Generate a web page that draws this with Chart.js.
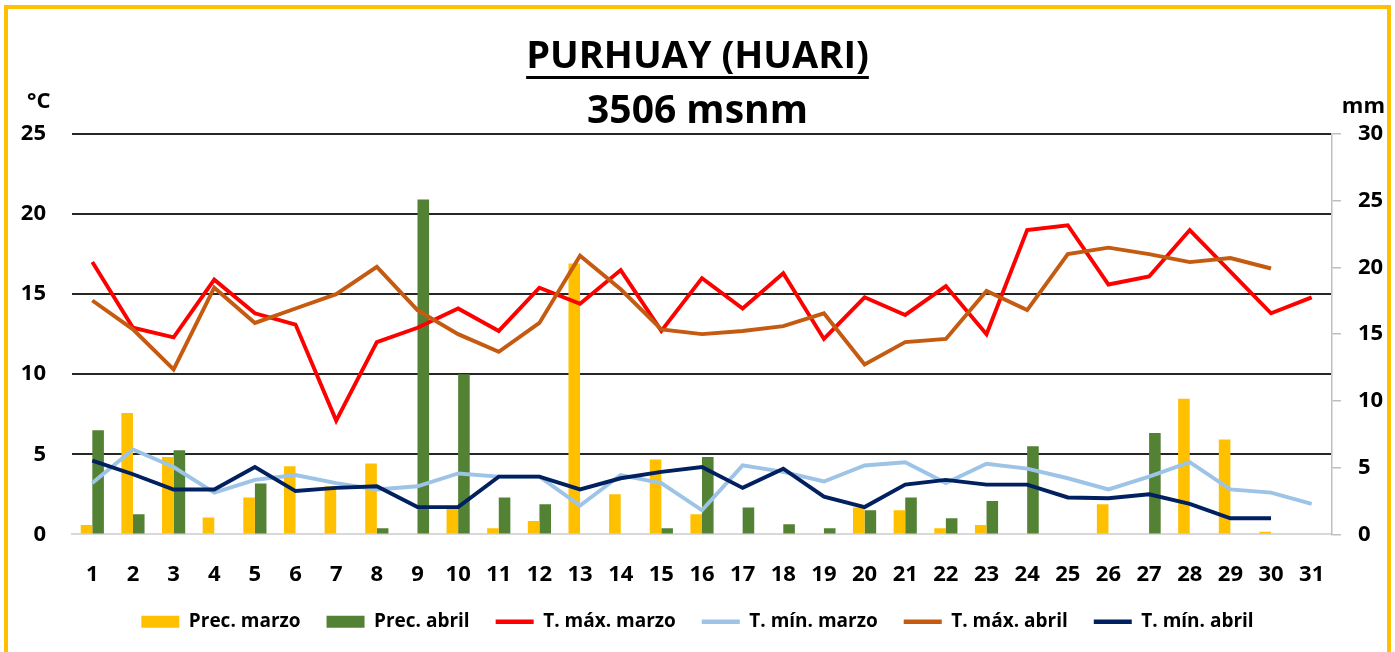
<!DOCTYPE html>
<html>
<head>
<meta charset="utf-8">
<script src="https://cdn.jsdelivr.net/npm/chart.js@4.4.1/dist/chart.umd.min.js"></script>
<style>
  html, body { margin: 0; padding: 0; background: #ffffff; }
  #wrap { position: relative; width: 1395px; height: 652px; overflow: hidden; background: #ffffff; }
  #frame { position: absolute; left: 4px; top: 5px; width: 1387px; height: 700px; border: 4px solid #FFC000; box-sizing: border-box; }
  #chart { position: absolute; left: 0; top: 0; }
  .txt { position: absolute; font-family: "Open Sans", Lato, sans-serif; font-weight: bold; color: #000; line-height: 1; white-space: nowrap; }
  #title { left: 0; width: 1395px; text-align: center; top: 34px; font-size: 38px; }
  #title span { text-decoration: underline; text-decoration-thickness: 2.5px; text-underline-offset: 8px; }
  #subtitle { left: 0; width: 1395px; text-align: center; top: 88px; font-size: 39px; }
  #unitL { left: 27px; top: 88px; font-size: 22px; }
  #unitR { right: 10px; top: 93px; font-size: 22px; }
</style>
</head>
<body>
<div id="wrap">
  <div id="frame"></div>
  <canvas id="chart" width="1395" height="652"></canvas>
  <div class="txt" id="title"><span>PURHUAY (HUARI)</span></div>
  <div class="txt" id="subtitle">3506 msnm</div>
  <div class="txt" id="unitL">°C</div>
  <div class="txt" id="unitR">mm</div>
</div>
<script>
// ---- Data ----
const days = ['1','2','3','4','5','6','7','8','9','10','11','12','13','14','15','16','17','18','19','20','21','22','23','24','25','26','27','28','29','30','31'];

const precMarzo = [0.7, 9.1, 5.8, 1.25, 2.75, 5.1, 3.6, 5.3, 0, 1.95, 0.45, 1.0, 20.3, 3.0, 5.6, 1.5, 0, 0, 0, 2.0, 1.8, 0.45, 0.7, 0, 0, 2.25, 0, 10.15, 7.1, 0.2, 0];
const precAbril = [7.8, 1.5, 6.3, 0, 3.8, 0, 0, 0.45, 25.1, 12.0, 2.75, 2.25, 0, 0, 0.45, 5.8, 2.0, 0.75, 0.45, 1.8, 2.75, 1.2, 2.5, 6.6, 0, 0, 7.6, 0, 0, 0, 0];

const tMaxMarzo = [17.0, 12.9, 12.3, 15.9, 13.8, 13.1, 7.1, 12.0, 12.9, 14.1, 12.7, 15.4, 14.4, 16.5, 12.7, 16.0, 14.1, 16.3, 12.2, 14.8, 13.7, 15.5, 12.5, 19.0, 19.3, 15.6, 16.1, 19.0, 16.4, 13.8, 14.8];
const tMinMarzo = [3.2, 5.3, 4.2, 2.6, 3.4, 3.7, 3.2, 2.8, 3.0, 3.8, 3.6, 3.6, 1.8, 3.7, 3.2, 1.5, 4.3, 3.9, 3.3, 4.3, 4.5, 3.2, 4.4, 4.1, 3.5, 2.8, 3.6, 4.5, 2.8, 2.6, 1.9];
const tMaxAbril = [14.6, 12.8, 10.3, 15.4, 13.2, 14.1, 15.0, 16.7, 14.0, 12.5, 11.4, 13.2, 17.4, 15.3, 12.8, 12.5, 12.7, 13.0, 13.8, 10.6, 12.0, 12.2, 15.2, 14.0, 17.5, 17.9, 17.5, 17.0, 17.25, 16.6, null];
const tMinAbril = [4.6, 3.75, 2.8, 2.8, 4.2, 2.7, 2.9, 3.0, 1.7, 1.7, 3.6, 3.6, 2.8, 3.5, 3.9, 4.2, 2.9, 4.1, 2.35, 1.7, 3.1, 3.4, 3.1, 3.1, 2.3, 2.25, 2.5, 1.9, 1.0, 1.0, null];

const tempTicks = [0, 5, 10, 15, 20, 25];
const precTicks = [0, 5, 10, 15, 20, 25, 30];

// ---- Chart ----
Chart.defaults.font.family = '"Open Sans", Lato, sans-serif';
Chart.defaults.color = '#000';

const lineDs = (label, data, color, order) => ({
  type: 'line', label, data, borderColor: color, backgroundColor: color,
  borderWidth: 3.9, pointRadius: 0, tension: 0, yAxisID: 'y', order, spanGaps: false
});

new Chart(document.getElementById('chart'), {
  data: {
    labels: days,
    datasets: [
      { type: 'bar', label: 'Prec. marzo', data: precMarzo, backgroundColor: '#FFC000', yAxisID: 'y1', order: 10,
        categoryPercentage: 0.57, barPercentage: 1.0 },
      { type: 'bar', label: 'Prec. abril', data: precAbril, backgroundColor: '#548235', yAxisID: 'y1', order: 10,
        categoryPercentage: 0.57, barPercentage: 1.0 },
      lineDs('T. máx. marzo', tMaxMarzo, '#FF0000', 6),
      lineDs('T. mín. marzo', tMinMarzo, '#9DC3E6', 5),
      lineDs('T. máx. abril', tMaxAbril, '#C55A11', 4),
      lineDs('T. mín. abril', tMinAbril, '#002060', 3)
    ]
  },
  options: {
    responsive: false,
    animation: false,
    layout: { padding: { top: 134, left: 0, right: 0, bottom: 10.7 } },
    plugins: {
      tooltip: { enabled: false },
      legend: {
        position: 'bottom',
        labels: {
          usePointStyle: true,
          pointStyleWidth: 38,
          boxHeight: 12,
          padding: 26,
          font: { size: 19, weight: 'bold' },
          color: '#000',
          generateLabels: (chart) => chart.data.datasets.map((ds, i) => ({
            text: ds.label,
            datasetIndex: i,
            fillStyle: ds.type === 'bar' ? ds.backgroundColor : ds.borderColor,
            strokeStyle: ds.type === 'bar' ? ds.backgroundColor : ds.borderColor,
            lineWidth: ds.type === 'bar' ? 0 : 4.5,
            pointStyle: ds.type === 'bar' ? 'rect' : 'line',
            fontColor: '#000',
            hidden: false
          }))
        }
      }
    },
    scales: {
      x: {
        grid: { display: true, drawOnChartArea: false, drawTicks: false },
        border: { display: true, color: '#d9d9d9', width: 2 },
        ticks: { padding: 27, font: { size: 22, weight: 'bold' }, color: '#000', maxRotation: 0, autoSkip: false },
        afterFit: (s) => { s.height = 52; }
      },
      y: {
        position: 'left',
        min: 0, max: 25,
        afterBuildTicks: (s) => { s.ticks = tempTicks.map(v => ({ value: v })); },
        grid: {
          drawTicks: false,
          lineWidth: 2,
          color: (ctx) => (ctx.tick && ctx.tick.value === 0) ? 'rgba(0,0,0,0)' : '#262626'
        },
        border: { display: false },
        ticks: { padding: 26, font: { size: 22, weight: 'bold' }, color: '#000' },
        afterFit: (s) => { s.width = 72; }
      },
      y1: {
        position: 'right',
        min: 0, max: 30,
        afterBuildTicks: (s) => { s.ticks = precTicks.map(v => ({ value: v })); },
        grid: { drawOnChartArea: false, drawTicks: true, tickLength: 9, color: '#bfbfbf', lineWidth: 1.5 },
        border: { display: true, color: '#bfbfbf', width: 1.5 },
        ticks: { padding: 17, font: { size: 22, weight: 'bold' }, color: '#000' },
        afterFit: (s) => { s.width = 63; }
      }
    }
  }
});
</script>
</body>
</html>
